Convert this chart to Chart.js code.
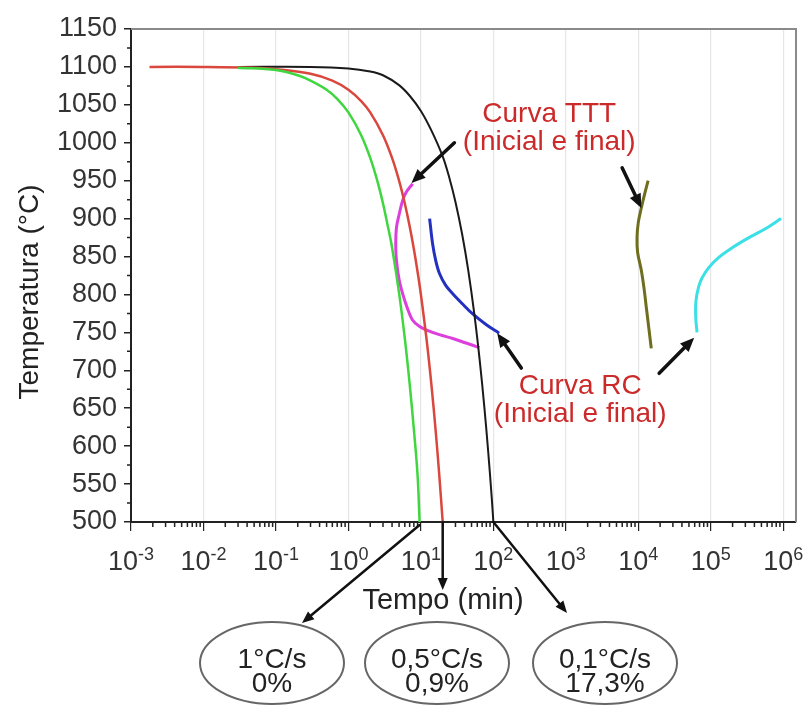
<!DOCTYPE html>
<html>
<head>
<meta charset="utf-8">
<script src="https://cdn.jsdelivr.net/npm/chart.js@4.4.1/dist/chart.umd.min.js"></script>
<style>
  html, body { margin: 0; padding: 0; background: #fff; }
  #wrap { width: 804px; height: 707px; position: relative; }
</style>
</head>
<body>
<div id="wrap"><canvas id="chart"></canvas></div>
<script>
// tempo em minutos, temperatura em °C
const timeGreen = [0.03, 0.1, 0.2, 0.3, 0.5, 0.7, 1, 1.5, 2, 2.5, 3, 3.5, 4, 5, 6, 7, 8, 9, 9.6];
const tempGreen = [1099, 1096, 1089, 1082, 1070, 1058, 1040, 1010, 980, 950, 920, 890, 862, 802, 742, 682, 622, 562, 500];

const timeRed = [0.0018, 0.01, 0.05, 0.1, 0.3, 0.6, 1, 1.5, 2, 3, 4, 5, 6, 7, 8, 9, 10, 12, 14, 16, 18, 20];
const tempRed = [1100, 1100, 1099, 1097, 1091, 1082, 1070, 1055, 1040, 1010, 980, 950, 920, 890, 860, 830, 800, 740, 680, 620, 560, 500];

const timeBlack = [0.03, 0.3, 1, 2, 3, 5, 7, 10, 14, 20, 25, 30, 37, 45, 55, 65, 75, 85, 95, 100];
const tempBlack = [1100, 1100, 1098, 1094, 1089, 1076, 1062, 1042, 1016, 982, 952, 922, 880, 832, 772, 712, 652, 592, 532, 500];

// curva TTT (inicio e fim)
const timeMagenta = [7.7, 6.3, 5.6, 5.0, 4.6, 4.5, 4.6, 5.0, 5.6, 6.5, 7.7, 9.5, 12, 18, 27.5, 42, 64];
const tempMagenta = [946, 935, 924, 905, 888, 865, 845, 820, 801, 782, 766, 758, 753, 747, 742, 736, 730];
const timeBlue = [13.2, 14.5, 16, 18, 22, 27.5, 38, 51, 80, 120];
const tempBlue = [900, 867, 845, 828, 812, 801, 787, 775, 760, 749];

// curva RC (inicio e fim)
const timeOlive = [13650, 12200, 11000, 10000, 9600, 9800, 11000, 12000, 12900, 14000, 15100];
const tempOlive = [950, 932, 914, 895, 875, 855, 832, 808, 783, 755, 729];
const timeCyan = [64600, 62000, 62500, 68000, 76000, 95000, 129000, 200000, 336000, 600000, 933000];
const tempCyan = [750, 770, 792, 810, 822, 836, 849, 862, 875, 888, 900];

const xTicks = [1e-3, 1e-2, 1e-1, 1e0, 1e1, 1e2, 1e3, 1e4, 1e5, 1e6];
const xTickExp = ['-3', '-2', '-1', '0', '1', '2', '3', '4', '5', '6'];

const rateLabels = ['1°C/s', '0,5°C/s', '0,1°C/s'];
const fractionLabels = ['0%', '0,9%', '17,3%'];

const FONT = '"Liberation Sans", Arial, sans-serif';
const pts = (t, T) => t.map((v, i) => ({ x: v, y: T[i] }));

function line(data, color, width) {
  return { data: data, borderColor: color, borderWidth: width, showLine: true,
           pointRadius: 0, fill: false, tension: 0.35 };
}

function arrow(ctx, x1, y1, x2, y2, w, hl, hw) {
  const a = Math.atan2(y2 - y1, x2 - x1);
  const bx = x2 - hl * Math.cos(a), by = y2 - hl * Math.sin(a);
  ctx.beginPath();
  ctx.moveTo(x1, y1);
  ctx.lineTo(bx, by);
  ctx.lineWidth = w;
  ctx.stroke();
  ctx.beginPath();
  ctx.moveTo(x2, y2);
  ctx.lineTo(bx + hw / 2 * Math.sin(a), by - hw / 2 * Math.cos(a));
  ctx.lineTo(bx - hw / 2 * Math.sin(a), by + hw / 2 * Math.cos(a));
  ctx.closePath();
  ctx.fill();
}

const extras = {
  id: 'extras',
  afterDraw(chart) {
    const ctx = chart.ctx, x = chart.scales.x, y = chart.scales.y, ca = chart.chartArea;
    const X = v => x.getPixelForValue(v), Y = v => y.getPixelForValue(v);
    ctx.save();

    // frame top / right
    ctx.strokeStyle = '#8a8a8a';
    ctx.lineWidth = 2;
    ctx.beginPath();
    ctx.moveTo(ca.left, ca.top); ctx.lineTo(ca.right, ca.top); ctx.lineTo(ca.right, ca.bottom);
    ctx.stroke();

    // minor ticks
    ctx.strokeStyle = '#222';
    ctx.lineWidth = 1.5;
    ctx.beginPath();
    for (let d = -3; d < 6; d++) {
      for (let k = 2; k < 10; k++) {
        const px = X(k * Math.pow(10, d));
        ctx.moveTo(px, ca.bottom); ctx.lineTo(px, ca.bottom + 5);
      }
    }
    for (let v = 525; v < 1150; v += 50) {
      ctx.moveTo(ca.left, Y(v)); ctx.lineTo(ca.left - 4, Y(v));
    }
    ctx.stroke();

    // x tick labels 10^n
    ctx.fillStyle = '#333';
    ctx.textBaseline = 'alphabetic';
    ctx.textAlign = 'left';
    xTicks.forEach((v, i) => {
      ctx.font = '27px ' + FONT;
      const wb = ctx.measureText('10').width;
      ctx.font = '18px ' + FONT;
      const we = ctx.measureText(xTickExp[i]).width;
      const sx = X(v) - (wb + we) / 2;
      ctx.font = '27px ' + FONT;
      ctx.fillText('10', sx, ca.bottom + 48);
      ctx.font = '18px ' + FONT;
      ctx.fillText(xTickExp[i], sx + wb, ca.bottom + 38);
    });

    // axis titles
    ctx.fillStyle = '#222';
    ctx.textAlign = 'center';
    ctx.font = '29px ' + FONT;
    ctx.fillText('Tempo (min)', 443, 609);
    ctx.save();
    ctx.translate(38, 292);
    ctx.rotate(-Math.PI / 2);
    ctx.font = '28px ' + FONT;
    ctx.fillText('Temperatura (°C)', 0, 0);
    ctx.restore();

    // annotation texts
    ctx.fillStyle = '#cc2a2a';
    ctx.font = '28px ' + FONT;
    ctx.textBaseline = 'middle';
    ctx.fillText('Curva TTT', X(590), Y(1037));
    ctx.fillText('(Inicial e final)', X(590), Y(1000));
    ctx.fillText('Curva RC', X(1580), Y(679));
    ctx.fillText('(Inicial e final)', X(1580), Y(642));

    // arrows
    ctx.strokeStyle = '#111';
    ctx.fillStyle = '#111';
    ctx.lineCap = 'round';
    arrow(ctx, X(29), Y(1000), X(7.4), Y(947), 3.5, 14, 12);
    arrow(ctx, X(5980), Y(967), X(11000), Y(914), 3.5, 14, 12);
    arrow(ctx, X(243), Y(703), X(113), Y(749), 3.5, 14, 12);
    arrow(ctx, X(19400), Y(696), X(59000), Y(743), 3.5, 14, 12);

    const gEnd = timeGreen[timeGreen.length - 1];
    const rEnd = timeRed[timeRed.length - 1];
    const bEnd = timeBlack[timeBlack.length - 1];
    arrow(ctx, X(gEnd), ca.bottom + 3, 302, 623, 2.5, 12, 10);
    arrow(ctx, X(rEnd), ca.bottom, X(rEnd), 590, 2.5, 12, 10);
    arrow(ctx, X(bEnd), ca.bottom, 567, 613, 2.5, 12, 10);

    // ellipses with rates
    const centers = [272, 437, 605];
    ctx.strokeStyle = '#666';
    ctx.lineWidth = 2;
    ctx.textBaseline = 'alphabetic';
    centers.forEach((cx, i) => {
      ctx.beginPath();
      ctx.ellipse(cx, 663, 72, 41, 0, 0, Math.PI * 2);
      ctx.fillStyle = '#fff';
      ctx.fill();
      ctx.stroke();
      ctx.fillStyle = '#222';
      ctx.font = '28px ' + FONT;
      ctx.fillText(rateLabels[i], cx, 668);
      ctx.fillText(fractionLabels[i], cx, 692);
    });
    ctx.restore();
  }
};

new Chart(document.getElementById('chart'), {
  type: 'scatter',
  data: {
    datasets: [
      line(pts(timeGreen, tempGreen), '#3fd63f', 2.5),
      line(pts(timeRed, tempRed), '#d9473d', 2.5),
      line(pts(timeBlack, tempBlack), '#1a1a1a', 2),
      line(pts(timeMagenta, tempMagenta), '#dd3fdd', 3),
      line(pts(timeBlue, tempBlue), '#2330c0', 3),
      line(pts(timeOlive, tempOlive), '#6e6e1e', 3),
      line(pts(timeCyan, tempCyan), '#3ae0e6', 3)
    ]
  },
  options: {
    responsive: true,
    maintainAspectRatio: false,
    animation: false,
    layout: { padding: { left: 0, top: 29, right: 8, bottom: 0 } },
    plugins: { legend: { display: false }, tooltip: { enabled: false } },
    scales: {
      x: {
        type: 'logarithmic',
        min: 1e-3,
        max: 1.5e6,
        afterBuildTicks: s => { s.ticks = xTicks.map(v => ({ value: v })); },
        afterFit: s => { s.height = 185; },
        ticks: { display: false },
        grid: { color: '#e6e6e6', tickColor: '#222', tickLength: 9, lineWidth: 1.2 },
        border: { color: '#222', width: 2 }
      },
      y: {
        min: 500,
        max: 1150,
        afterFit: s => { s.width = 131; },
        ticks: { stepSize: 50, padding: 7, color: '#333', callback: v => String(v),
                 font: { size: 27, family: FONT } },
        grid: { drawOnChartArea: false, tickColor: '#222', tickLength: 7, lineWidth: 1.5 },
        border: { color: '#222', width: 2 }
      }
    }
  },
  plugins: [extras]
});
</script>
</body>
</html>
